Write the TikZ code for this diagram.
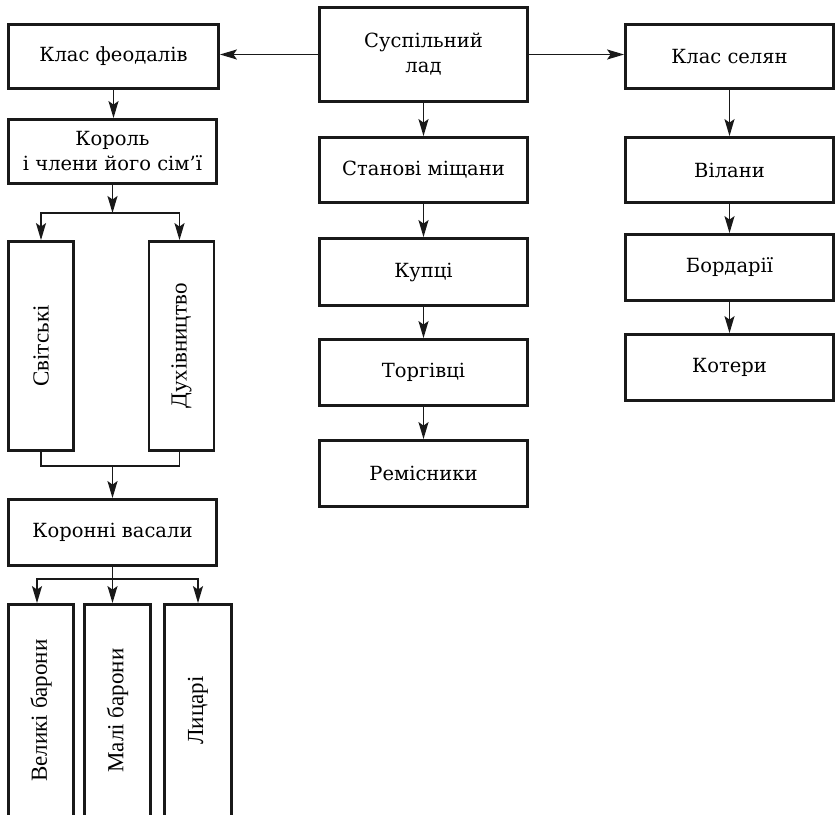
\documentclass[tikz,border=0pt]{standalone}
\usepackage{fontspec}
\usepackage{graphicx}
\setmainfont{DejaVu Serif}
\newfontfamily\vfont{Liberation Serif}
\usetikzlibrary{arrows.meta}
\begin{document}
\begin{tikzpicture}[x=1pt,y=-1pt,
  box/.style={draw=black!90, line width=2.8pt, inner sep=0pt, align=center,
    font=\fontsize{19.5}{25}\selectfont},
  vbox/.style={box, font=\vfont\fontsize{23}{26}\selectfont},
  arr/.style={draw=black!90, line width=1.5pt, -{Stealth[length=17pt,width=10pt,inset=3.5pt]}},
  ln/.style={draw=black!90, line width=1.5pt}]
\useasboundingbox (0,0) rectangle (837,814);
\clip (0,0) rectangle (837,814);
\fill[white] (0,0) rectangle (837,814);

% top row
\node[box, minimum width=210, minimum height=64] (feod) at (113.5,56.5) {Клас феодалів};
\node[box, minimum width=208, minimum height=94] (sus) at (423.5,54.5) {Суспільний\\лад};
\node[box, minimum width=208, minimum height=64] (sel) at (729.5,56.5) {Клас селян};

% left column
\node[box, minimum width=208, minimum height=64] (korol) at (112.5,151.5) {Король\\і члени його сім'ї};
\node[vbox, minimum width=65, minimum height=209] (svit) at (41,346) {\rotatebox{90}{Світські}};
\node[vbox, minimum width=65, minimum height=209] (duh) at (181.5,346) {\rotatebox{90}{Духівництво}};
\node[box, minimum width=208, minimum height=66] (kor) at (112.5,532.5) {Коронні васали};
\node[vbox, minimum width=65, minimum height=212] (vel) at (41,710.5) {\rotatebox{90}{Великі барони}};
\node[vbox, minimum width=66, minimum height=212] (mal) at (117.5,710.5) {\rotatebox{90}{Малі барони}};
\node[vbox, minimum width=67, minimum height=212] (lyc) at (198,710.5) {\rotatebox{90}{Лицарі}};

% middle column
\node[box, minimum width=208, minimum height=65] (stan) at (423.5,170) {Станові міщани};
\node[box, minimum width=208, minimum height=67] (kup) at (423.5,272) {Купці};
\node[box, minimum width=208, minimum height=66] (torg) at (423.5,372.5) {Торгівці};
\node[box, minimum width=208, minimum height=66] (rem) at (423.5,473.5) {Ремісники};

% right column
\node[box, minimum width=208, minimum height=65] (vil) at (729.5,170) {Вілани};
\node[box, minimum width=208, minimum height=66] (bord) at (729.5,267.5) {Бордарії};
\node[box, minimum width=208, minimum height=66] (kot) at (729.5,367.5) {Котери};

% connectors
\draw[arr] (sus.west) -- (sus.west -| feod.east);
\draw[arr] (sus.east) -- (sus.east -| sel.west);

\draw[arr] (feod.south) -- (feod.south |- korol.north);
\coordinate (j1) at (112.5,213);
\draw[arr] (korol.south) -- (j1);
\draw[arr] (j1) -| (svit.north);
\draw[arr] (j1) -| ([xshift=-2pt]duh.north);
\coordinate (j2) at (112.5,466);
\draw[ln] (svit.south) |- (j2) -| ([xshift=-2pt]duh.south);
\draw[arr] (j2) -- (j2 |- kor.north);
\coordinate (j3) at (112.5,579);
\draw[arr] (kor.south) -- (kor.south |- mal.north);
\draw[arr] (j3) -| ([xshift=-4pt]vel.north);
\draw[arr] (j3) -| (lyc.north);

\draw[arr] (sus.south) -- (stan.north);
\draw[arr] (stan.south) -- (kup.north);
\draw[arr] (kup.south) -- (torg.north);
\draw[arr] (torg.south) -- (rem.north);

\draw[arr] (sel.south) -- (vil.north);
\draw[arr] (vil.south) -- (bord.north);
\draw[arr] (bord.south) -- (kot.north);
\end{tikzpicture}
\end{document}
